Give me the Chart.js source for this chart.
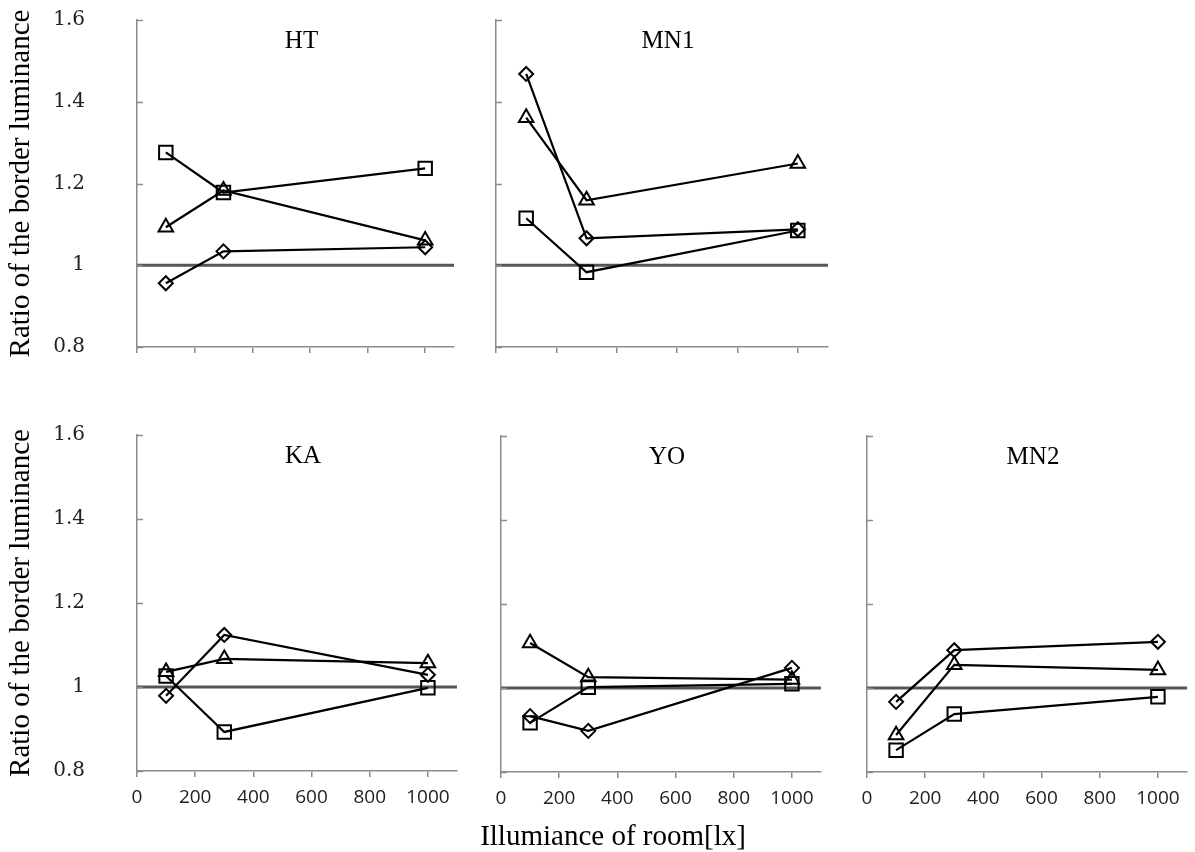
<!DOCTYPE html>
<html>
<head>
<meta charset="utf-8">
<title>Ratio of the border luminance</title>
<script src="https://cdn.jsdelivr.net/npm/chart.js@4.4.1/dist/chart.umd.min.js"></script>
<style>
  html, body { margin: 0; padding: 0; background: #fff; }
  #figure { position: relative; width: 1195px; height: 852px; overflow: hidden; }
  .panel { position: absolute; }
</style>
</head>
<body>
<div id="figure"></div>
<script>
// Illuminance of room [lx] (shared x values)
const illuminance = [100, 300, 1000];

// Ratio of the border luminance, one array per marker series and panel
const htDiamond  = [0.956, 1.034, 1.044];
const htSquare   = [1.276, 1.178, 1.237];
const htTriangle = [1.093, 1.183, 1.061];

const mn1Diamond  = [1.468, 1.066, 1.088];
const mn1Square   = [1.115, 0.983, 1.085];
const mn1Triangle = [1.361, 1.159, 1.249];

const kaDiamond  = [0.979, 1.124, 1.029];
const kaSquare   = [1.026, 0.893, 0.998];
const kaTriangle = [1.036, 1.067, 1.057];

const yoDiamond  = [0.933, 0.898, 1.048];
const yoSquare   = [0.917, 1.002, 1.010];
const yoTriangle = [1.107, 1.026, 1.020];

const mn2Diamond  = [0.967, 1.090, 1.110];
const mn2Square   = [0.852, 0.938, 0.979];
const mn2Triangle = [0.888, 1.055, 1.043];

const xTickValues = [0, 200, 400, 600, 800, 1000];
const yTickValues = [0.8, 1.0, 1.2, 1.4, 1.6];

// ratio = 1 reference line
const refLineX = [0, 1100];
const refLineY = [1, 1];

// ── styling ─────────────────────────────────────────────
const SERIF = "'Liberation Serif', 'Times New Roman', serif";
const AXIS_GREY = '#8c8c8c';
const PAD_TOP = 14;
const PAD_RIGHT = 12;

const MARKERS = [
  { style: 'rectRot',  radius: 7 },    // diamond
  { style: 'rect',     radius: 9.5 },  // square
  { style: 'triangle', radius: 8.4 },  // triangle
];

// plot = [left, top, right, bottom] of the chart area in page pixels
const panels = [
  { name: 'HT',  series: [htDiamond, htSquare, htTriangle],    plot: [137, 20, 454, 347],  yW: 137, xH: 14, yLabels: true,  xLabels: false },
  { name: 'MN1', series: [mn1Diamond, mn1Square, mn1Triangle], plot: [496, 20, 828, 347],  yW: 14,  xH: 14, yLabels: false, xLabels: false },
  { name: 'KA',  series: [kaDiamond, kaSquare, kaTriangle],    plot: [137, 435, 457, 771], yW: 137, xH: 45, yLabels: true,  xLabels: true },
  { name: 'YO',  series: [yoDiamond, yoSquare, yoTriangle],    plot: [501, 436, 821, 772], yW: 30,  xH: 80, yLabels: false, xLabels: true,
    xTitle: 'Illumiance of room[lx]' },
  { name: 'MN2', series: [mn2Diamond, mn2Square, mn2Triangle], plot: [867, 436, 1187, 772], yW: 14, xH: 45, yLabels: false, xLabels: true },
];

Chart.defaults.font.family = "'Open Sans', sans-serif";
Chart.defaults.animation = false;

// inward y ticks, panel name, shared x title
const panelDecor = {
  id: 'panelDecor',
  afterDraw(chart, args, opts) {
    const { ctx, chartArea, scales: { y } } = chart;
    ctx.save();
    ctx.strokeStyle = AXIS_GREY;
    ctx.lineWidth = 1.5;
    y.ticks.forEach((t) => {
      const py = Math.round(y.getPixelForValue(t.value)) + 0.5;
      ctx.beginPath();
      ctx.moveTo(chartArea.left, py);
      ctx.lineTo(chartArea.left + 6, py);
      ctx.stroke();
    });

    ctx.fillStyle = '#000';
    ctx.textAlign = 'center';
    ctx.textBaseline = 'middle';
    ctx.font = `25px ${SERIF}`;
    ctx.fillText(opts.name, (chartArea.left + chartArea.right) / 2 + 6, chartArea.top + 21);

    if (opts.xTitle) {
      ctx.font = `29px ${SERIF}`;
      ctx.fillText(opts.xTitle, chartArea.left + 112, chartArea.bottom + 65);
    }
    ctx.restore();
  },
};

const fig = document.getElementById('figure');

panels.forEach((p) => {
  const [L, T, R, B] = p.plot;
  const box = document.createElement('div');
  box.className = 'panel';
  Object.assign(box.style, {
    left:   (L - p.yW) + 'px',
    top:    (T - PAD_TOP) + 'px',
    width:  (p.yW + (R - L) + PAD_RIGHT) + 'px',
    height: (PAD_TOP + (B - T) + p.xH) + 'px',
  });
  const canvas = document.createElement('canvas');
  box.appendChild(canvas);
  fig.appendChild(box);

  const datasets = p.series.map((vals, i) => ({
    label: ['Diamond', 'Square', 'Triangle'][i],
    data: illuminance.map((x, k) => ({ x, y: vals[k] })),
    borderColor: '#000',
    borderWidth: 2.2,
    pointStyle: MARKERS[i].style,
    pointRadius: MARKERS[i].radius,
    pointBorderColor: '#000',
    pointBorderWidth: 2,
    pointBackgroundColor: 'rgba(0,0,0,0)',
    tension: 0,
    clip: false,
  }));
  datasets.push({
    label: 'Ratio = 1',
    data: refLineX.map((x, k) => ({ x, y: refLineY[k] })),
    borderColor: '#555',
    borderWidth: 3,
    pointRadius: 0,
  });

  new Chart(canvas, {
    type: 'line',
    data: { datasets },
    options: {
      responsive: true,
      maintainAspectRatio: false,
      layout: { padding: { top: PAD_TOP, right: PAD_RIGHT, left: 0, bottom: 0 } },
      plugins: {
        legend: { display: false },
        tooltip: { enabled: false },
        panelDecor: { name: p.name, xTitle: p.xTitle },
      },
      scales: {
        x: {
          type: 'linear',
          min: 0,
          max: 1100,
          bounds: 'data',
          afterBuildTicks: (s) => { s.ticks = xTickValues.map((v) => ({ value: v })); },
          afterFit: (s) => { s.height = p.xH; s.paddingLeft = 0; s.paddingRight = 0; },
          border: { color: AXIS_GREY, width: 1.5 },
          grid: { drawOnChartArea: false, drawTicks: true, tickLength: 6, color: AXIS_GREY, lineWidth: 1.5 },
          ticks: {
            display: p.xLabels,
            padding: 9,
            maxRotation: 0,
            color: '#222',
            font: { size: 19 },
            callback: (v) => String(v),
          },
        },
        y: {
          type: 'linear',
          min: 0.8,
          max: 1.6,
          bounds: 'data',
          afterBuildTicks: (s) => { s.ticks = yTickValues.map((v) => ({ value: v })); },
          afterFit: (s) => { s.width = p.yW; s.paddingTop = 0; s.paddingBottom = 0; },
          border: { color: AXIS_GREY, width: 1.5 },
          grid: { drawOnChartArea: false, drawTicks: false },
          ticks: {
            display: p.yLabels,
            padding: 52,
            color: '#222',
            font: { family: "'DejaVu Serif', serif", size: 20 },
            callback: (v) => String(Number(v.toFixed(1))),
          },
          title: {
            display: p.yLabels,
            text: 'Ratio of the border luminance',
            color: '#000',
            font: { family: SERIF, size: 29 },
            padding: { top: 4, bottom: 0 },
          },
        },
      },
    },
    plugins: [panelDecor],
  });
});
</script>
</body>
</html>
